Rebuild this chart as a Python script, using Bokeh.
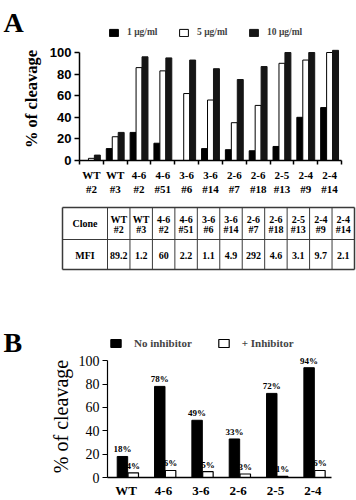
import numpy as np
from bokeh.plotting import figure
from bokeh.models import (Range1d, FactorRange, FixedTicker, Legend, LegendItem,
                          LabelSet, ColumnDataSource)
from bokeh.layouts import column, row
from bokeh.transform import dodge
from bokeh.core.properties import value
from bokeh.embed import file_html
from bokeh.resources import INLINE

# ---------------- data ----------------
clone_names = ["WT", "WT", "4-6", "4-6", "3-6", "3-6", "2-6", "2-6", "2-5", "2-4", "2-4"]
clone_ids = ["#2", "#3", "#2", "#51", "#6", "#14", "#7", "#18", "#13", "#9", "#14"]
cleav_1ug = [0, 11, 26, 16, 0, 11, 10, 9, 13, 40, 49]
cleav_5ug = [2, 22, 86, 83, 62, 56, 35, 51, 90, 93, 100]
cleav_10ug = [5, 26, 96, 95, 93, 85, 75, 87, 100, 100, 102]
conc_labels = ["1 \u03bcg/ml", "5 \u03bcg/ml", "10 \u03bcg/ml"]
y_ticks = [0, 20, 40, 60, 80, 100]
y_title = "% of cleavage"

table_head = "Clone"
table_row = "MFI"
mfi = ["89.2", "1.2", "60", "2.2", "1.1", "4.9", "292", "4.6", "3.1", "9.7", "2.1"]

groups_b = ["WT", "4-6", "3-6", "2-6", "2-5", "2-4"]
no_inhib = [18, 78, 49, 33, 72, 94]
plus_inhib = [4, 6, 5, 3, 1, 6]
legend_b = ["No inhibitor", "+ Inhibitor"]

SERIF = "Liberation Serif"
SANS = "Liberation Sans"
W = 356


def mkfig(**kw):
    kw.setdefault("output_backend", "svg")
    kw.setdefault("toolbar_location", None)
    try:
        f = figure(frame_align=False, **kw)
    except Exception:
        f = figure(**kw)
    f.outline_line_color = None
    f.background_fill_color = "white"
    f.border_fill_color = "white"
    return f


def blank(width, height):
    f = mkfig(width=width, height=height, x_range=Range1d(0, width),
              y_range=Range1d(0, height), min_border=0,
              x_axis_location=None, y_axis_location=None)
    f.grid.visible = False
    return f


# ---------------- panel A ----------------
HA = 198
SA = 46                       # side strip with letter and y title
A_left, A_right, A_top, A_bot = 31, 15, 0, 38
A_ppu = 1.08                  # px per % unit
A_ymax = (HA - A_top - A_bot) / A_ppu
n = len(clone_names)
pa = mkfig(width=W - SA, height=HA, x_range=Range1d(0, n), y_range=Range1d(0, A_ymax),
           min_border_left=A_left, min_border_right=A_right,
           min_border_top=A_top, min_border_bottom=A_bot)
pa.grid.visible = False

centers = [i + 0.5 for i in range(n)]
srcA = ColumnDataSource(dict(x=centers, c1=cleav_1ug, c5=cleav_5ug, c10=cleav_10ug))
bw = 0.25
r1 = pa.vbar(x=dodge("x", -0.25), top="c1", width=bw, source=srcA,
             fill_color="black", line_color="black", line_width=1)
r5 = pa.vbar(x=dodge("x", 0.0), top="c5", width=bw, source=srcA,
             fill_color="white", line_color="black", line_width=1)
r10 = pa.vbar(x=dodge("x", 0.25), top="c10", width=bw, source=srcA,
              fill_color="#151515", line_color="#151515", line_width=1)

xa = pa.xaxis[0]
xa.ticker = FixedTicker(ticks=centers, minor_ticks=list(range(n + 1)))
xa.major_label_overrides = {c: f"{a}\n{b}" for c, a, b in zip(centers, clone_names, clone_ids)}
xa.major_tick_out = 0
xa.major_tick_in = 0
xa.minor_tick_out = 4
xa.minor_tick_in = 0
xa.minor_tick_line_width = 1.5
xa.axis_line_width = 1.5
xa.major_label_text_font = SERIF
xa.major_label_text_font_style = "bold"
xa.major_label_text_font_size = "11px"
xa.major_label_standoff = 4
xa.major_label_text_color = "black"

ya = pa.yaxis[0]
ya.ticker = FixedTicker(ticks=y_ticks)
ya.bounds = (0, 100)
ya.axis_line_width = 1.5
ya.major_tick_out = 5
ya.major_tick_in = 0
ya.major_tick_line_width = 1.5
ya.minor_tick_out = 0
ya.major_label_text_font = SANS
ya.major_label_text_font_style = "bold"
ya.major_label_text_font_size = "13px"
ya.major_label_text_color = "black"
ya.major_label_standoff = 3

legA = Legend(items=[LegendItem(label=conc_labels[0], renderers=[r1]),
                     LegendItem(label=conc_labels[1], renderers=[r5]),
                     LegendItem(label=conc_labels[2], renderers=[r10])],
              orientation="horizontal", location=(29, 123), padding=0, margin=0,
              spacing=20, label_standoff=8, glyph_width=11, glyph_height=9,
              label_height=9, label_width=31, label_text_font=SERIF,
              label_text_font_style="bold", label_text_font_size="9.5px",
              border_line_color=None, background_fill_alpha=0)
pa.add_layout(legA)

sideA = blank(SA, HA)
sideA.text(x=[3], y=[HA - 22], text=["A"], text_font=value(SERIF), text_font_style="bold",
           text_font_size="28px", text_align="left", text_baseline="alphabetic",
           text_color="black")
sideA.text(x=[30.5], y=[HA - 98.5], text=[y_title], angle=np.pi / 2,
           text_font=value(SERIF), text_font_style="bold", text_font_size="16.5px",
           text_align="center", text_baseline="middle", text_color="black")

# ---------------- table ----------------
HT = 84
pt = blank(W, HT)
t_left, t_first, t_right = 62, 45, 354
cw = (t_right - t_left - t_first) / n
y_top, y_mid, y_bot = 75, 43, 13
bounds_x = [t_left, t_left + t_first] + [t_left + t_first + cw * (i + 1) for i in range(n)]
col_c = [t_left + t_first + cw * (i + 0.5) for i in range(n)]

pt.segment(x0=[t_left] * 3, x1=[t_right] * 3, y0=[y_top, y_mid, y_bot], y1=[y_top, y_mid, y_bot],
           line_color="#3a3a3a", line_width=[1.5, 1.2, 1.5])
pt.segment(x0=bounds_x, x1=bounds_x, y0=[y_bot] * len(bounds_x), y1=[y_top] * len(bounds_x),
           line_color="#3a3a3a", line_width=[1.5] + [1] * (len(bounds_x) - 2) + [1.5])

tfont = dict(text_font=value(SERIF), text_font_style="bold", text_font_size="10px",
             text_align="center", text_baseline="middle", text_color="black")
pt.text(x=[t_left + t_first / 2], y=[59], text=[table_head], **tfont)
pt.text(x=[t_left + t_first / 2], y=[27], text=[table_row], **tfont)
pt.text(x=col_c, y=[63] * n, text=clone_names, **tfont)
pt.text(x=col_c, y=[53] * n, text=clone_ids, **tfont)
pt.text(x=col_c, y=[27] * n, text=mfi, **tfont)

# ---------------- panel B ----------------
HB = 218
SB = 75
B_left, B_right, B_top, B_bot = 31, 25, 0, 21
B_ppu = 1.18
B_ymax = (HB - B_top - B_bot) / B_ppu
pb = mkfig(width=W - SB, height=HB, x_range=FactorRange(factors=groups_b, range_padding=0),
           y_range=Range1d(0, B_ymax),
           min_border_left=B_left, min_border_right=B_right,
           min_border_top=B_top, min_border_bottom=B_bot)
pb.grid.visible = False

srcB = ColumnDataSource(dict(g=groups_b, no=no_inhib, plus=plus_inhib,
                             no_l=[f"{v}%" for v in no_inhib],
                             plus_l=[f"{v}%" for v in plus_inhib]))
d_no, d_plus, bwb = -0.1, 0.19, 0.28
rb1 = pb.vbar(x=dodge("g", d_no, range=pb.x_range), top="no", width=bwb, source=srcB,
              fill_color="black", line_color="black")
rb2 = pb.vbar(x=dodge("g", d_plus, range=pb.x_range), top="plus", width=bwb, source=srcB,
              fill_color="white", line_color="black", line_width=1.2)

lab_kw = dict(text_font=value(SERIF), text_font_style="bold", text_font_size="9px",
              text_align="center", text_baseline="alphabetic", text_color="black", y_offset=4)
pb.add_layout(LabelSet(x=dodge("g", d_no, range=pb.x_range), y="no", text="no_l",
                       source=srcB, **lab_kw))
pb.add_layout(LabelSet(x=dodge("g", d_plus, range=pb.x_range), y="plus", text="plus_l",
                       source=srcB, **lab_kw))

xb = pb.xaxis[0]
xb.major_tick_out = 0
xb.major_tick_in = 0
xb.axis_line_width = 1.5
xb.major_label_text_font = SERIF
xb.major_label_text_font_style = "bold"
xb.major_label_text_font_size = "13px"
xb.major_label_standoff = 5
xb.major_label_text_color = "black"

yb = pb.yaxis[0]
yb.ticker = FixedTicker(ticks=y_ticks)
yb.bounds = (0, 100)
yb.axis_line_width = 1.2
yb.major_tick_out = 5
yb.major_tick_in = 0
yb.minor_tick_out = 0
yb.major_label_text_font = SERIF
yb.major_label_text_font_size = "14px"
yb.major_label_text_color = "black"
yb.major_label_standoff = 3

legB = Legend(items=[LegendItem(label=legend_b[0], renderers=[rb1]),
                     LegendItem(label=legend_b[1], renderers=[rb2])],
              orientation="horizontal", location=(2, 128), padding=0, margin=0,
              spacing=25, label_standoff=12, glyph_width=13, glyph_height=10,
              label_height=12, label_text_font=SERIF, label_text_font_style="bold",
              label_text_font_size="11px", border_line_color=None,
              background_fill_alpha=0)
pb.add_layout(legB)

sideB = blank(SB, HB)
sideB.text(x=[3], y=[HB - 60], text=["B"], text_font=value(SERIF), text_font_style="bold",
           text_font_size="28px", text_align="left", text_baseline="alphabetic",
           text_color="black")
sideB.text(x=[60], y=[HB - 134], text=[y_title], angle=np.pi / 2,
           text_font=value(SERIF), text_font_style="normal", text_font_size="20px",
           text_align="center", text_baseline="middle", text_color="black")

layout = column(row(sideA, pa, spacing=0), pt, row(sideB, pb, spacing=0), spacing=0)
open("out.html", "w").write(file_html(layout, INLINE))
